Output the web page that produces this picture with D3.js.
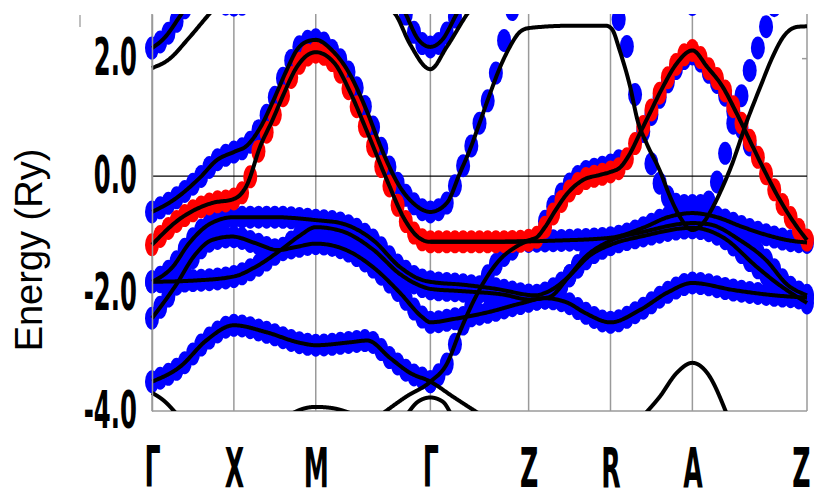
<!DOCTYPE html>
<html>
<head>
<meta charset="utf-8">
<script src="https://cdn.jsdelivr.net/npm/d3@7"></script>
<style>
  html, body { margin: 0; padding: 0; background: #fff; }
  svg { display: block; }
</style>
</head>
<body>
<div id="chart"></div>
<script>
// high-symmetry path
const kLabels = ["Γ", "X", "M", "Γ", "Z", "R", "A", "Z"];
const kTicks = [0, 1, 2, 3.4, 4.6, 5.6, 6.6, 8.0];
const eTicks = [2, 0, -2, -4];

// bands as [k, E] pairs
const bandTopBlue = [[0,2.18],[0.15,2.35],[0.35,2.74],[0.5,3.05],[0.7,3.0],[1.0,2.91],[1.25,3.0],[1.5,3.3],[2.0,3.6],[2.7,3.6],[2.95,3.2],[3.1,2.76],[3.25,2.33],[3.4,2.2],[3.55,2.33],[3.72,2.76],[3.9,3.2],[4.2,3.6]];
const bandTopBlack = [[0,1.84],[0.2,1.98],[0.45,2.35],[0.7,2.76],[1.0,3.2],[2.0,3.6],[2.97,2.76],[3.15,2.25],[3.4,1.82],[3.6,2.2],[3.85,2.76],[4.1,3.2]];
const topBlueA = [[6.3,3.4],[6.6,2.92],[6.9,3.4]];
const bandMain = [[0,-0.61],[0.26,-0.41],[0.59,-0.02],[0.79,0.27],[1.0,0.41],[1.16,0.52],[1.32,0.82],[1.48,1.28],[1.65,1.82],[1.77,2.15],[1.89,2.29],[2.0,2.32],[2.2,2.14],[2.41,1.75],[2.62,1.12],[2.81,0.44],[3.03,-0.19],[3.19,-0.46],[3.4,-0.61],[3.6,-0.46],[3.76,0.05],[3.88,0.44],[4.0,0.9],[4.13,1.41],[4.25,1.85],[4.37,2.2],[4.49,2.45],[4.6,2.52],[5.1,2.56],[5.55,2.56],[5.62,2.5],[5.71,2.15],[5.84,1.52],[5.93,0.95],[6.04,0.56],[6.2,0.1],[6.33,-0.36],[6.45,-0.7],[6.6,-0.92],[6.73,-0.8],[6.85,-0.53],[6.98,-0.15],[7.07,0.15],[7.27,0.95],[7.43,1.52],[7.58,2.03],[7.71,2.37],[7.88,2.54],[8.0,2.55]];
const riseTail = [[4.25,2.02],[4.37,2.7],[4.5,3.2]];
const bandVee = [[5.55,3.1],[5.69,2.7],[5.78,2.35],[5.87,1.6],[5.97,0.95],[6.08,0.3],[6.2,-0.12],[6.33,-0.4],[6.45,-0.5],[6.6,-0.5],[6.75,-0.5],[6.85,-0.3],[6.96,0.19],[7.1,0.9],[7.3,1.8],[7.46,2.4],[7.6,2.9]];
const bandRed = [[0,-1.17],[0.32,-0.75],[0.73,-0.46],[1.0,-0.39],[1.16,-0.15],[1.32,0.5],[1.48,0.98],[1.6,1.37],[1.77,1.86],[2.0,2.11],[2.23,1.92],[2.41,1.46],[2.62,0.78],[2.87,-0.07],[3.09,-0.75],[3.27,-1.06],[3.4,-1.12],[4.0,-1.12],[4.5,-1.11],[4.68,-1.06],[4.8,-0.87],[4.92,-0.6],[5.07,-0.3],[5.26,-0.07],[5.47,0.02],[5.6,0.07],[5.72,0.15],[5.84,0.39],[5.96,0.73],[6.08,1.07],[6.24,1.52],[6.41,1.92],[6.6,2.14],[6.78,1.86],[6.97,1.52],[7.14,1.07],[7.3,0.61],[7.46,0.15],[7.67,-0.41],[7.88,-0.87],[8.0,-1.09]];
const blueShoulder = [[4.8,-0.77],[4.92,-0.47],[5.07,-0.18],[5.26,0.05],[5.47,0.14],[5.6,0.19],[5.75,0.3]];
const blueUnderA = [[6.08,0.99],[6.24,1.45],[6.41,1.85],[6.6,2.08],[6.78,1.8],[6.97,1.45],[7.14,0.99],[7.3,0.53]];
const bandC1 = [[0,-1.8],[0.25,-1.55],[0.45,-1.15],[0.7,-0.82],[1.0,-0.7],[1.5,-0.7],[2.0,-0.75],[2.3,-0.8],[2.7,-1.09],[3.03,-1.55],[3.3,-1.77],[3.4,-1.8],[3.8,-1.85],[4.2,-1.92],[4.68,-2.03],[4.8,-1.99],[5.08,-1.72],[5.29,-1.38],[5.6,-1.1],[6.0,-0.95],[6.6,-0.8],[6.8,-0.82],[7.18,-1.09],[7.5,-1.43],[7.76,-1.85],[8.0,-2.03]];
const bandC2 = [[0,-1.8],[0.5,-1.78],[1.0,-1.71],[1.26,-1.55],[1.6,-1.23],[1.8,-1.02],[2.0,-0.87],[2.3,-0.93],[2.7,-1.25],[3.03,-1.67],[3.3,-1.88],[3.4,-1.92],[3.8,-1.96],[4.3,-2.02],[4.6,-2.1],[4.85,-2.06],[5.1,-1.7],[5.35,-1.35],[5.6,-1.17],[6.0,-1.02],[6.6,-0.88],[6.97,-1.04],[7.39,-1.55],[7.63,-1.82],[8.0,-2.16]];
const bandD = [[0,-2.42],[0.3,-1.84],[0.52,-1.35],[0.73,-1.09],[0.98,-1.03],[1.26,-1.14],[1.54,-1.26],[1.75,-1.21],[2.0,-1.15],[2.3,-1.22],[2.7,-1.55],[3.03,-1.99],[3.3,-2.4],[3.4,-2.49],[3.7,-2.43],[4.1,-2.32],[4.5,-2.17],[4.8,-2.08],[5.08,-2.16],[5.29,-2.33],[5.6,-2.49],[5.96,-2.28],[6.3,-1.98],[6.6,-1.82],[7.1,-1.94],[7.6,-2.03],[8.0,-2.07]];
const bandFlat = [[3.4,-1.12],[4.2,-1.12],[4.9,-1.1],[5.6,-1.05],[6.0,-0.88],[6.3,-0.7],[6.6,-0.63],[6.9,-0.7],[7.2,-0.86],[7.5,-1.0],[7.8,-1.1],[8.0,-1.13]];
const bandL1 = [[0,-3.5],[0.34,-3.25],[0.67,-2.79],[1.0,-2.54],[1.4,-2.66],[1.81,-2.84],[2.0,-2.88],[2.42,-2.83],[2.63,-2.8],[2.91,-3.1],[3.15,-3.35],[3.4,-3.5],[3.68,-3.76],[4.0,-4.05]];
const bandBeta = [[2.81,-4.05],[3.1,-3.76],[3.4,-3.5],[3.6,-3.2],[3.76,-2.65],[3.92,-2.15],[4.09,-1.72],[4.25,-1.42],[4.45,-1.2],[4.68,-1.06]];
const arcG0 = [[0,-3.69],[0.15,-3.83],[0.3,-4.05]];
const arcM = [[1.7,-4.05],[1.85,-3.96],[2.0,-3.93],[2.2,-3.95],[2.45,-4.05]];
const arcG1 = [[3.12,-4.05],[3.25,-3.84],[3.4,-3.77],[3.55,-3.84],[3.65,-4.05]];
const arcA = [[6.02,-4.05],[6.2,-3.76],[6.41,-3.35],[6.6,-3.18],[6.78,-3.35],[7.02,-4.05]];

const mainFat = bandMain.filter(p => p[0] <= 4.13).concat(riseTail);

const blueTracks = [
  { pts: bandTopBlue }, { pts: topBlueA }, { pts: mainFat }, { pts: bandVee },
  { pts: bandC1 }, { pts: bandC2 }, { pts: bandD }, { pts: bandFlat, from: 4.6 },
  { pts: bandL1, to: 3.4 }, { pts: bandBeta, from: 3.35, to: 4.4 },
  { pts: blueShoulder }, { pts: blueUnderA }
];
const redTracks = [{ pts: bandRed }];
const blackLines = [bandTopBlue, bandTopBlack, bandMain, bandRed, bandC1, bandC2, bandD,
  bandFlat, bandL1, bandBeta, arcG0, arcM, arcG1, arcA];

const width = 814, height = 501;
const x = d3.scaleLinear().domain([0, 8]).range([152, 807]);
const y = d3.scaleLinear().domain([-4, 2.76]).range([411, 14]);

// monotone cubic (same tangents as d3.curveMonotoneX) so markers sit on the lines
function monotone(pts) {
  const n = pts.length, xs = pts.map(p => p[0]), ys = pts.map(p => p[1]);
  const h = [], s = [], m = new Array(n);
  for (let i = 0; i < n - 1; i++) { h[i] = xs[i + 1] - xs[i]; s[i] = (ys[i + 1] - ys[i]) / h[i]; }
  const sg = v => v < 0 ? -1 : 1;
  for (let i = 1; i < n - 1; i++) {
    const p = (s[i - 1] * h[i] + s[i] * h[i - 1]) / (h[i - 1] + h[i]);
    m[i] = (sg(s[i - 1]) + sg(s[i])) * Math.min(Math.abs(s[i - 1]), Math.abs(s[i]), 0.5 * Math.abs(p)) || 0;
  }
  m[0] = n > 2 ? (3 * s[0] - m[1]) / 2 : s[0];
  m[n - 1] = n > 2 ? (3 * s[n - 2] - m[n - 2]) / 2 : s[n - 2];
  return k => {
    let i = Math.max(0, Math.min(n - 2, d3.bisectRight(xs, k) - 1));
    const t = (k - xs[i]) / h[i], t2 = t * t, t3 = t2 * t;
    return (2 * t3 - 3 * t2 + 1) * ys[i] + (t3 - 2 * t2 + t) * h[i] * m[i]
      + (-2 * t3 + 3 * t2) * ys[i + 1] + (t3 - t2) * h[i] * m[i + 1];
  };
}

const svg = d3.select("#chart").append("svg")
  .attr("width", width)
  .attr("height", height);

svg.append("defs").append("clipPath").attr("id", "plot-clip")
  .append("rect")
  .attr("x", 140).attr("y", y(2.76))
  .attr("width", 674).attr("height", y(-4) - y(2.76));

// vertical lines at the k points
svg.append("g").selectAll("line").data(kTicks).join("line")
  .attr("x1", d => x(d)).attr("x2", d => x(d))
  .attr("y1", y(2.76)).attr("y2", y(-4))
  .attr("stroke", "#9a9a9a").attr("stroke-width", 1.5);

// Fermi level
svg.append("line")
  .attr("x1", x(0)).attr("x2", x(8)).attr("y1", y(0)).attr("y2", y(0))
  .attr("stroke", "#000").attr("stroke-width", 1.2);

// bottom edge and small right tick
svg.append("line")
  .attr("x1", x(0)).attr("x2", x(8)).attr("y1", y(-4)).attr("y2", y(-4))
  .attr("stroke", "#9a9a9a").attr("stroke-width", 1.5);
svg.append("line")
  .attr("x1", x(8) - 5).attr("x2", x(8)).attr("y1", y(2)).attr("y2", y(2))
  .attr("stroke", "#9a9a9a").attr("stroke-width", 1.5);
svg.append("line")
  .attr("x1", 80).attr("x2", 80).attr("y1", 15).attr("y2", 27)
  .attr("stroke", "#aaa").attr("stroke-width", 1.5);

const plot = svg.append("g").attr("clip-path", "url(#plot-clip)");
const kSteps = d3.range(0, 81).map(i => i / 10);

function drawFat(track, color) {
  const f = monotone(track.pts);
  const lo = track.from ?? track.pts[0][0];
  const hi = track.to ?? track.pts[track.pts.length - 1][0];
  const ks = kSteps.filter(k => k >= lo - 1e-6 && k <= hi + 1e-6);
  plot.append("g").selectAll("ellipse").data(ks).join("ellipse")
    .attr("cx", k => x(k))
    .attr("cy", k => y(f(k)))
    .attr("rx", 7)
    .attr("ry", 11.5)
    .attr("fill", color);
}
blueTracks.forEach(t => drawFat(t, "#0000ff"));
redTracks.forEach(t => drawFat(t, "#ff0000"));

const line = d3.line().x(d => x(d[0])).y(d => y(d[1]));
blackLines.forEach(pts => {
  const f = monotone(pts);
  const k0 = pts[0][0], k1 = pts[pts.length - 1][0];
  const samples = d3.range(0, 501).map(i => {
    const k = k0 + (k1 - k0) * i / 500;
    return [k, f(k)];
  });
  plot.append("path")
    .attr("d", line(samples))
    .attr("fill", "none")
    .attr("stroke", "#000")
    .attr("stroke-width", 4)
    .attr("stroke-linejoin", "round");
});

const tickFont = "'Liberation Sans Narrow', 'DejaVu Sans Condensed', sans-serif";

// Y axis
const yAxis = svg.append("g")
  .attr("transform", `translate(${x(0)},0)`)
  .call(d3.axisLeft(y).tickValues(eTicks).tickSize(0).tickFormat(d => d.toFixed(1)));
yAxis.select(".domain").attr("stroke", "#9a9a9a").attr("stroke-width", 1.5);
yAxis.selectAll("text")
  .attr("x", -29).attr("y", 16).attr("dy", 0)
  .attr("transform", "scale(0.52,1)")
  .style("font-family", tickFont)
  .style("font-weight", "bold")
  .style("font-size", "52px")
  .attr("fill", "#000");

// X axis
const xAxis = svg.append("g")
  .attr("transform", `translate(0,${y(-4)})`)
  .call(d3.axisBottom(x).tickValues(kTicks).tickSize(0).tickFormat((d, i) => kLabels[i]));
xAxis.select(".domain").remove();
xAxis.selectAll("text")
  .attr("y", 76).attr("dy", 0)
  .attr("x", (d, i) => i === kTicks.length - 1 ? -12 : 0)
  .attr("transform", "scale(0.5,1)")
  .style("font-family", tickFont)
  .style("font-weight", "bold")
  .style("font-size", "56px")
  .attr("fill", "#000");

// Y axis label
svg.append("text")
  .attr("transform", `translate(42,250) rotate(-90)`)
  .attr("text-anchor", "middle")
  .style("font-family", "'Liberation Sans', Arial, sans-serif")
  .style("font-size", "38px")
  .text("Energy (Ry)");
</script>
</body>
</html>
